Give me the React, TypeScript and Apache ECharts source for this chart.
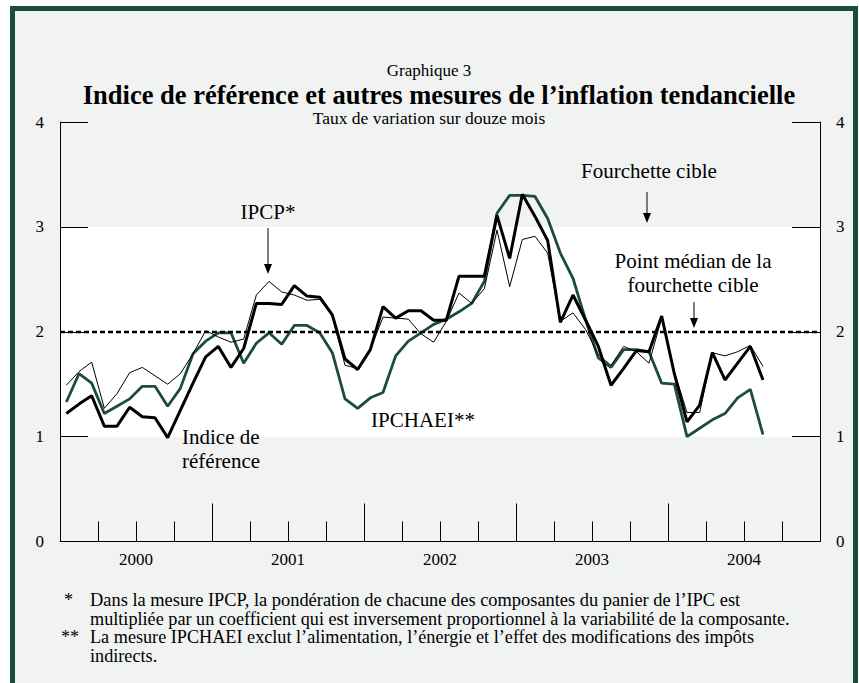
import React, { useEffect, useRef } from "react";
import * as echarts from "echarts";

const FONT = '"Liberation Serif", "Times New Roman", serif';

const years = ["2000", "2001", "2002", "2003", "2004"];
const monthNames = ["01", "02", "03", "04", "05", "06", "07", "08", "09", "10", "11", "12"];
const monthCategories = years.flatMap((y) => monthNames.map((m) => `${y}-${m}`));

// Indice de référence (thick black), Jan 2000 - Aug 2004
const refIndex = [
  1.22, 1.31, 1.39, 1.10, 1.10, 1.28, 1.19, 1.18, 0.99, 1.25, 1.51, 1.76,
  1.86, 1.66, 1.84, 2.27, 2.27, 2.26, 2.44, 2.34, 2.33, 2.16, 1.74, 1.64,
  1.83, 2.24, 2.13, 2.20, 2.20, 2.11, 2.11, 2.53, 2.53, 2.53, 3.11, 2.70,
  3.31, 3.10, 2.87, 2.09, 2.35, 2.11, 1.86, 1.49, 1.65, 1.82, 1.81, 2.15,
  1.60, 1.14, 1.30, 1.80, 1.54, 1.70, 1.86, 1.54,
];

// IPCP (thin black)
const ipcp = [
  1.49, 1.62, 1.71, 1.27, 1.41, 1.61, 1.66, 1.58, 1.50, 1.60, 1.79, 2.01,
  1.95, 1.90, 1.93, 2.35, 2.48, 2.38, 2.35, 2.30, 2.31, 2.15, 1.68, 1.65,
  1.83, 2.14, 2.13, 2.12, 1.98, 1.90, 2.10, 2.37, 2.27, 2.41, 2.97, 2.43,
  2.88, 2.91, 2.75, 2.10, 2.18, 2.02, 1.78, 1.68, 1.86, 1.81, 1.70, 2.13,
  1.62, 1.23, 1.23, 1.80, 1.77, 1.81, 1.87, 1.67,
];

// IPCHAEI (dark green)
const ipchaei = [
  1.33, 1.60, 1.51, 1.22, 1.29, 1.36, 1.48, 1.48, 1.29, 1.46, 1.79, 1.91,
  1.99, 1.99, 1.70, 1.89, 1.99, 1.88, 2.06, 2.06, 1.99, 1.80, 1.36, 1.27,
  1.37, 1.42, 1.77, 1.91, 1.99, 2.07, 2.12, 2.19, 2.27, 2.48, 3.13, 3.30,
  3.30, 3.29, 3.08, 2.75, 2.51, 2.11, 1.75, 1.66, 1.83, 1.83, 1.81, 1.51,
  1.50, 1.00, 1.08, 1.16, 1.22, 1.37, 1.45, 1.02,
];

const targetBand = [1, 3];
const targetMid = 2;
const yMin = 0;
const yMax = 4;
const yStep = 1;

const BG = "#f1f3f3";
const FRAME = "#1d4a43";
const GREEN = "#1d4b44";

function txt(text: string, x: number, y: number, size: number, align = "center", weight = "normal") {
  return {
    type: "text",
    x,
    y,
    z: 100,
    silent: true,
    style: {
      text,
      fontSize: size,
      lineHeight: size,
      fontFamily: FONT,
      fontWeight: weight,
      fill: "#000",
      align,
      verticalAlign: "middle",
    },
  };
}

function arrow(x: number, y1: number, y2: number) {
  return [
    { type: "line", z: 100, silent: true, shape: { x1: x, y1, x2: x, y2: y2 - 6 }, style: { stroke: "#000", lineWidth: 1 } },
    {
      type: "polygon",
      z: 100,
      silent: true,
      shape: { points: [[x - 4, y2 - 10], [x + 4, y2 - 10], [x, y2]] },
      style: { fill: "#000" },
    },
  ];
}

export default function App() {
  const ref = useRef<HTMLDivElement>(null);

  useEffect(() => {
    if (!ref.current) return;
    const chart = echarts.init(ref.current, undefined, { renderer: "svg" });

    const yAxisCommon = {
      type: "value",
      min: yMin,
      max: yMax,
      interval: yStep,
      z: 10,
      axisLine: { show: true, lineStyle: { color: "#000", width: 1 } },
      axisTick: { show: true, inside: true, length: 28, lineStyle: { color: "#000", width: 1 } },
      axisLabel: { color: "#000", fontSize: 17, fontFamily: FONT, margin: 16 },
      splitLine: { show: false },
    };

    chart.setOption({
      animation: false,
      backgroundColor: "transparent",
      textStyle: { fontFamily: FONT },
      grid: { left: 60, right: 39, top: 122, bottom: 141.5, containLabel: false },
      xAxis: [
        {
          type: "category",
          data: monthCategories,
          boundaryGap: true,
          position: "bottom",
          z: 10,
          axisLine: { show: true, lineStyle: { color: "#000", width: 1 } },
          axisTick: { show: true, inside: true, interval: 2, length: 20, lineStyle: { color: "#000", width: 1 } },
          axisLabel: { show: false },
          splitLine: { show: false },
        },
        {
          type: "category",
          data: years,
          boundaryGap: true,
          position: "bottom",
          z: 10,
          axisLine: { show: false },
          axisTick: { show: true, inside: true, interval: 0, length: 38, lineStyle: { color: "#000", width: 1 } },
          axisLabel: { show: true, interval: 0, color: "#000", fontSize: 17, fontFamily: FONT, margin: 9 },
          splitLine: { show: false },
        },
      ],
      yAxis: [
        { ...yAxisCommon, position: "left" },
        { ...yAxisCommon, position: "right" },
      ],
      series: [
        {
          name: "band",
          type: "line",
          data: [],
          z: 1,
          silent: true,
          markArea: {
            silent: true,
            itemStyle: { color: "#ffffff" },
            data: [[{ yAxis: targetBand[0] }, { yAxis: targetBand[1] }]],
          },
        },
        {
          name: "mid",
          type: "line",
          data: [],
          z: 2,
          silent: true,
          markLine: {
            silent: true,
            symbol: ["none", "none"],
            label: { show: false },
            lineStyle: { color: "#000", width: 2.4, type: [5, 3] },
            data: [{ yAxis: targetMid }],
          },
        },
        {
          name: "IPCHAEI**",
          type: "line",
          data: ipchaei,
          z: 3,
          symbol: "none",
          lineStyle: { color: GREEN, width: 2.8 },
        },
        {
          name: "Indice de référence",
          type: "line",
          data: refIndex,
          z: 4,
          symbol: "none",
          lineStyle: { color: "#000", width: 3 },
        },
        {
          name: "IPCP*",
          type: "line",
          data: ipcp,
          z: 5,
          symbol: "none",
          lineStyle: { color: "#000", width: 1 },
        },
      ],
      graphic: [
        {
          type: "rect",
          silent: true,
          z: -10,
          shape: { x: 12.5, y: 8.5, width: 843, height: 720 },
          style: { fill: BG, stroke: FRAME, lineWidth: 5 },
        },
        txt("Graphique 3", 429, 70, 17),
        txt("Indice de référence et autres mesures de l’inflation tendancielle", 439, 94.5, 26.5, "center", "bold"),
        txt("Taux de variation sur douze mois", 429, 118, 17.5),
        txt("IPCP*", 268, 212, 21),
        ...arrow(268, 228, 274),
        txt("Indice de", 182, 437, 21, "left"),
        txt("référence", 182, 461, 21, "left"),
        txt("IPCHAEI**", 423, 420, 21),
        txt("Fourchette cible", 649, 171, 21),
        ...arrow(647, 192, 223),
        txt("Point médian de la", 693, 261, 21),
        txt("fourchette cible", 693, 285, 21),
        ...arrow(694, 302, 328),
        txt("*", 64, 600, 18.2, "left"),
        txt("Dans la mesure IPCP, la pondération de chacune des composantes du panier de l’IPC est", 90, 600, 18.4, "left"),
        txt("multipliée par un coefficient qui est inversement proportionnel à la variabilité de la composante.", 90, 618.5, 18.2, "left"),
        txt("**", 61, 637, 18.2, "left"),
        txt("La mesure IPCHAEI exclut l’alimentation, l’énergie et l’effet des modifications des impôts", 90, 637, 18.2, "left"),
        txt("indirects.", 90, 655.5, 18.2, "left"),
      ],
    });

    return () => chart.dispose();
  }, []);

  return (
    <div
      ref={ref}
      style={{ position: "fixed", left: 0, top: 0, width: 859, height: 683, background: "#ffffff" }}
    />
  );
}
